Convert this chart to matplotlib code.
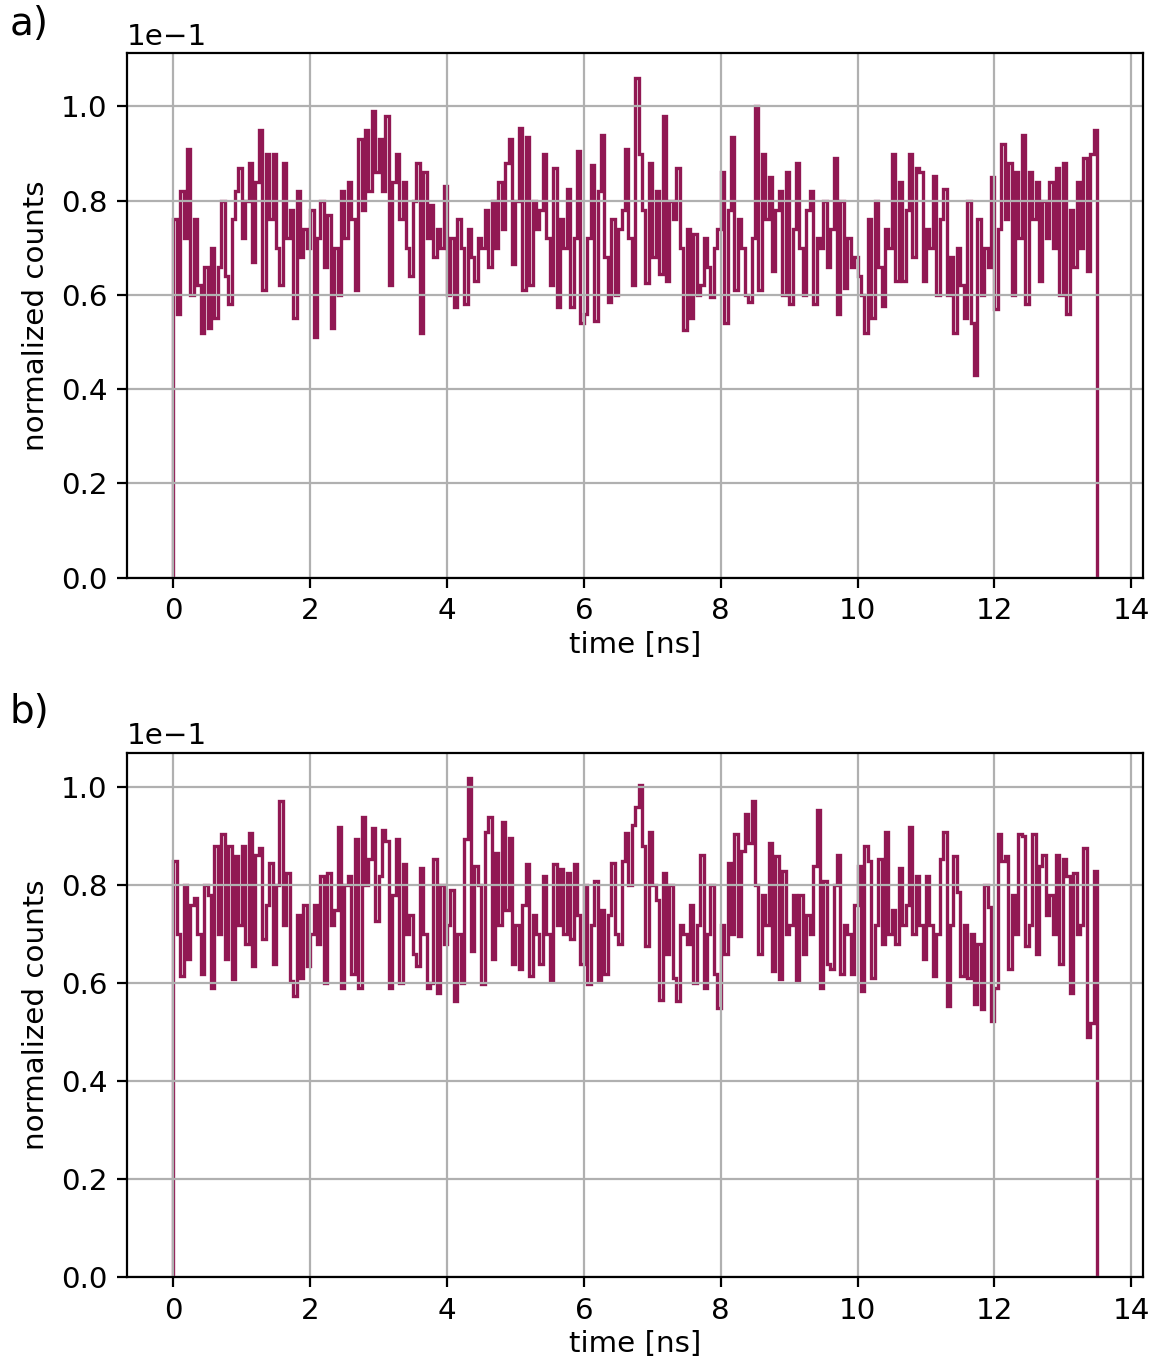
import numpy as np
import matplotlib
matplotlib.use('Agg')
import matplotlib.pyplot as plt

# histogram bins: 0.05 ns wide, 0 .. 13.5 ns
bin_width = 0.05
n_bins = 270

# normalized counts (in units of 1e-1)
counts_a = [
    0.76, 0.56, 0.82, 0.72, 0.91, 0.60, 0.76, 0.62, 0.52, 0.66, 0.53, 0.70, 0.55, 0.66, 0.80, 0.64, 0.58, 0.76, 0.82, 0.87,
    0.72, 0.80, 0.88, 0.67, 0.84, 0.95, 0.61, 0.90, 0.76, 0.90, 0.70, 0.62, 0.88, 0.72, 0.78, 0.55, 0.82, 0.68, 0.74, 0.70,
    0.78, 0.51, 0.72, 0.80, 0.66, 0.77, 0.53, 0.70, 0.60, 0.82, 0.72, 0.84, 0.76, 0.61, 0.93, 0.78, 0.95, 0.82, 0.99, 0.86,
    0.93, 0.82, 0.98, 0.62, 0.84, 0.90, 0.76, 0.84, 0.70, 0.64, 0.80, 0.88, 0.52, 0.86, 0.72, 0.79, 0.68, 0.74, 0.70, 0.83,
    0.60, 0.72, 0.575, 0.76, 0.70, 0.58, 0.74, 0.68, 0.63, 0.72, 0.70, 0.78, 0.66, 0.80, 0.70, 0.84, 0.74, 0.88, 0.93, 0.665,
    0.80, 0.955, 0.61, 0.935, 0.62, 0.80, 0.74, 0.78, 0.90, 0.72, 0.62, 0.87, 0.575, 0.76, 0.70, 0.825, 0.575, 0.72, 0.905, 0.54,
    0.56, 0.72, 0.875, 0.545, 0.82, 0.94, 0.68, 0.585, 0.76, 0.60, 0.74, 0.78, 0.91, 0.72, 0.62, 1.06, 0.90, 0.78, 0.625, 0.88,
    0.68, 0.82, 0.645, 0.98, 0.63, 0.80, 0.76, 0.87, 0.70, 0.525, 0.74, 0.55, 0.73, 0.60, 0.62, 0.72, 0.66, 0.595, 0.70, 0.74,
    0.86, 0.54, 0.78, 0.935, 0.61, 0.76, 0.70, 0.60, 0.585, 0.72, 1.00, 0.61, 0.90, 0.76, 0.85, 0.65, 0.78, 0.82, 0.60, 0.86,
    0.58, 0.74, 0.88, 0.70, 0.60, 0.78, 0.82, 0.58, 0.72, 0.70, 0.80, 0.66, 0.74, 0.89, 0.56, 0.80, 0.615, 0.72, 0.66, 0.68,
    0.64, 0.60, 0.52, 0.76, 0.55, 0.80, 0.66, 0.577, 0.74, 0.70, 0.90, 0.63, 0.84, 0.63, 0.78, 0.90, 0.68, 0.87, 0.86, 0.63,
    0.74, 0.70, 0.853, 0.60, 0.76, 0.825, 0.60, 0.68, 0.52, 0.70, 0.62, 0.55, 0.80, 0.54, 0.43, 0.76, 0.60, 0.70, 0.66, 0.85,
    0.57, 0.74, 0.92, 0.76, 0.88, 0.60, 0.86, 0.72, 0.94, 0.58, 0.86, 0.76, 0.84, 0.63, 0.80, 0.72, 0.84, 0.70, 0.87, 0.60,
    0.88, 0.56, 0.78, 0.66, 0.84, 0.70, 0.89, 0.65, 0.90, 0.95,
]

counts_b = [
    0.85, 0.70, 0.615, 0.80, 0.65, 0.76, 0.775, 0.70, 0.62, 0.80, 0.78, 0.59, 0.88, 0.70, 0.904, 0.65, 0.88, 0.608, 0.86, 0.72,
    0.88, 0.68, 0.907, 0.635, 0.863, 0.877, 0.69, 0.76, 0.846, 0.64, 0.80, 0.972, 0.72, 0.826, 0.605, 0.574, 0.74, 0.61, 0.76, 0.635,
    0.70, 0.76, 0.68, 0.82, 0.60, 0.826, 0.72, 0.75, 0.92, 0.59, 0.80, 0.82, 0.62, 0.894, 0.59, 0.94, 0.80, 0.853, 0.918, 0.727,
    0.82, 0.914, 0.89, 0.59, 0.78, 0.894, 0.60, 0.843, 0.70, 0.74, 0.66, 0.635, 0.836, 0.70, 0.59, 0.60, 0.853, 0.58, 0.80, 0.68,
    0.72, 0.79, 0.564, 0.70, 0.60, 0.894, 1.02, 0.666, 0.84, 0.80, 0.598, 0.91, 0.94, 0.65, 0.867, 0.72, 0.93, 0.75, 0.897, 0.64,
    0.72, 0.63, 0.76, 0.843, 0.615, 0.74, 0.70, 0.64, 0.82, 0.70, 0.605, 0.843, 0.72, 0.833, 0.70, 0.826, 0.69, 0.843, 0.74, 0.64,
    0.80, 0.598, 0.72, 0.81, 0.605, 0.75, 0.62, 0.74, 0.846, 0.70, 0.68, 0.85, 0.907, 0.80, 0.924, 0.96, 1.005, 0.88, 0.676, 0.91,
    0.80, 0.77, 0.567, 0.826, 0.66, 0.80, 0.61, 0.564, 0.72, 0.70, 0.68, 0.76, 0.60, 0.72, 0.863, 0.59, 0.70, 0.80, 0.62, 0.55,
    0.72, 0.66, 0.846, 0.70, 0.904, 0.697, 0.87, 0.945, 0.887, 0.972, 0.80, 0.66, 0.78, 0.72, 0.887, 0.625, 0.86, 0.608, 0.83, 0.70,
    0.72, 0.78, 0.605, 0.78, 0.66, 0.74, 0.70, 0.84, 0.955, 0.59, 0.81, 0.64, 0.63, 0.80, 0.863, 0.62, 0.72, 0.70, 0.62, 0.76,
    0.84, 0.585, 0.88, 0.85, 0.61, 0.72, 0.853, 0.68, 0.91, 0.70, 0.75, 0.68, 0.836, 0.72, 0.76, 0.92, 0.70, 0.82, 0.72, 0.65,
    0.82, 0.72, 0.615, 0.70, 0.853, 0.91, 0.554, 0.72, 0.86, 0.786, 0.615, 0.72, 0.61, 0.70, 0.557, 0.68, 0.547, 0.80, 0.755, 0.523,
    0.59, 0.904, 0.85, 0.86, 0.63, 0.78, 0.70, 0.904, 0.90, 0.676, 0.72, 0.904, 0.66, 0.84, 0.863, 0.74, 0.78, 0.70, 0.863, 0.64,
    0.853, 0.82, 0.58, 0.826, 0.70, 0.72, 0.877, 0.49, 0.52, 0.83,
]

edges = np.arange(n_bins + 1) * bin_width
line_color = '#911853'

plt.rcParams['font.size'] = 10.6

fig, axs = plt.subplots(2, 1, figsize=(5.78, 6.815), dpi=200)
fig.subplots_adjust(left=0.11, right=0.989, top=0.961, bottom=0.063, hspace=0.334)

for ax, counts in zip(axs, [counts_a, counts_b]):
    ax.stairs(np.array(counts) * 1e-1, edges, color=line_color, lw=1.2, baseline=0)
    ax.set_ylim(bottom=0)
    ax.ticklabel_format(axis='y', style='sci', scilimits=(0, 0))
    ax.set_xticks([0, 2, 4, 6, 8, 10, 12, 14])
    ax.grid(True)
    ax.set_xlabel('time [ns]', labelpad=2)
    ax.set_ylabel('normalized counts')

fig.text(0.008, 0.9825, 'a)', fontsize=14, va='center', ha='left')
fig.text(0.008, 0.4775, 'b)', fontsize=14, va='center', ha='left')

fig.savefig('out.png', dpi=200)
